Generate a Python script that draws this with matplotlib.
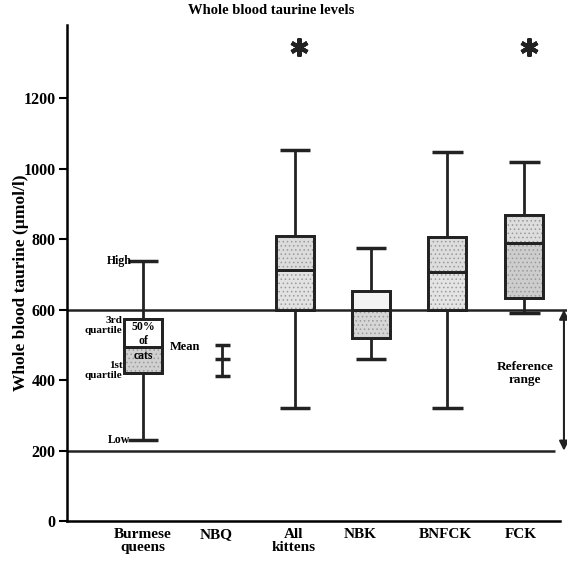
import matplotlib.pyplot as plt

# box data (umol/l)
groups = ["Burmese\nqueens", "NBQ", "All\nkittens", "NBK", "BNFCK", "FCK"]
box_names = ["Burmese queens", "All kittens", "NBK", "BNFCK", "FCK"]
box_low = [230, 320, 460, 320, 590]
box_q1 = [420, 598, 519, 598, 633]
box_mid = [494, 712, 598, 707, 788]
box_q3 = [573, 808, 652, 805, 868]
box_high = [738, 1052, 774, 1047, 1018]

# NBQ shown only as mean with range
nbq_mean = 460
nbq_low = 411
nbq_high = 499

# starred groups
star_groups = ["All kittens", "FCK"]
star_level = 1345

ref_low = 200
ref_high = 600

box_pos = {"Burmese queens": 1.0, "NBQ": 2.04, "All kittens": 2.99,
           "NBK": 3.99, "BNFCK": 4.99, "FCK": 6.0}
label_pos = [0.99, 1.96, 2.98, 3.85, 4.97, 5.95]
upper_fill = ["white", "#dcdcdc", "#f3f3f3", "#dddddd", "#dddddd"]
lower_fill = ["#d0d0d0", "#e2e2e2", "#d6d6d6", "#e4e4e4", "#cdcdcd"]
upper_dots = [False, True, False, True, True]

plt.rcParams['font.family'] = ['Liberation Serif', 'DejaVu Serif']
plt.rcParams['font.weight'] = 'bold'
plt.rcParams['axes.labelweight'] = 'bold'
plt.rcParams['axes.titleweight'] = 'bold'
plt.rcParams['hatch.linewidth'] = 0.6

fig = plt.figure(figsize=(5.67, 5.61), dpi=100)
ax = fig.add_axes([0.118, 0.071, 0.882, 0.884])
ax.set_xlim(0.0, 6.56)
ax.set_ylim(0, 1407)

w = 0.5
for i, name in enumerate(box_names):
    x = box_pos[name]
    ax.vlines(x, box_low[i], box_q1[i], color="#222", lw=2)
    ax.vlines(x, box_q3[i], box_high[i], color="#222", lw=2)
    ax.hlines([box_low[i], box_high[i]], x - 0.2, x + 0.2, color="#222", lw=2.5)
    ax.bar(x, box_mid[i] - box_q1[i], bottom=box_q1[i], width=w,
           color=lower_fill[i], edgecolor="#222", lw=2, zorder=3)
    ax.bar(x, box_mid[i] - box_q1[i], bottom=box_q1[i], width=w,
           color="none", edgecolor="#9a9a9a", hatch="....", lw=0, zorder=3)
    ax.bar(x, box_q3[i] - box_mid[i], bottom=box_mid[i], width=w,
           color=upper_fill[i], edgecolor="#222", lw=2, zorder=3)
    if upper_dots[i]:
        ax.bar(x, box_q3[i] - box_mid[i], bottom=box_mid[i], width=w,
               color="none", edgecolor="#9a9a9a", hatch="....", lw=0, zorder=3)
    # redraw outline on top of the dots
    ax.bar(x, box_q3[i] - box_q1[i], bottom=box_q1[i], width=w,
           color="none", edgecolor="#222", lw=2, zorder=3)
    ax.hlines(box_mid[i], x - w / 2, x + w / 2, color="#222", lw=2, zorder=3)

xq = box_pos["NBQ"]
ax.vlines(xq, nbq_low, nbq_high, color="#222", lw=2)
ax.hlines([nbq_low, nbq_mean, nbq_high], xq - 0.1, xq + 0.1, color="#222", lw=2.5)

for name in star_groups:
    ax.plot(box_pos[name] + 0.06, star_level, marker=(6, 2, 0), ms=13,
            mew=3, color="#222")

# reference range
ax.axhline(ref_high, color="#222", lw=1.8, zorder=2)
ax.hlines(ref_low, 0, 6.4, color="#222", lw=1.8)
ax.annotate("", xy=(6.52, ref_low), xytext=(6.52, ref_high),
            arrowprops=dict(arrowstyle="<|-|>", color="#222", lw=1.5,
                            mutation_scale=14, shrinkA=0, shrinkB=0),
            annotation_clip=False)
ax.text(6.01, 420, "Reference\nrange", ha="center", va="center", fontsize=9.5,
        linespacing=1.1)

# key labels on the Burmese box
ax.text(0.85, 738, "High", ha="right", va="center", fontsize=8.5)
ax.text(0.73, 556, "3rd\nquartile", ha="right", va="center", fontsize=8,
        multialignment="right", linespacing=1.1)
ax.text(0.73, 428, "1st\nquartile", ha="right", va="center", fontsize=8,
        multialignment="right", linespacing=1.1)
ax.text(0.83, 230, "Low", ha="right", va="center", fontsize=8.5)
ax.text(1.35, 494, "Mean", ha="left", va="center", fontsize=9)
for txt, yv in [("50%", 551), ("of", 510), ("cats", 468)]:
    ax.text(1.0, yv, txt, ha="center", va="center", fontsize=8.5, zorder=4)

ax.set_xticks(label_pos)
ax.set_xticklabels(groups, fontsize=11, linespacing=0.95)
ax.tick_params(axis="x", length=0, pad=5)
ax.set_yticks(range(0, 1201, 200))
ax.tick_params(axis="y", length=6, width=1.5, labelsize=11.5, pad=2)
ax.spines["top"].set_visible(False)
ax.spines["right"].set_visible(False)
ax.spines["left"].set_linewidth(1.8)
ax.spines["bottom"].set_linewidth(1.8)
ax.spines["bottom"].set_bounds(0, 6.47)
ax.set_ylabel("Whole blood taurine (\u00b5mol/l)", fontsize=12.5, labelpad=4)
ax.yaxis.set_label_coords(-0.076, 0.48)
ax.set_title("Whole blood taurine levels", fontsize=10.5, x=0.408, pad=8)

fig.savefig("out.png", dpi=100)
